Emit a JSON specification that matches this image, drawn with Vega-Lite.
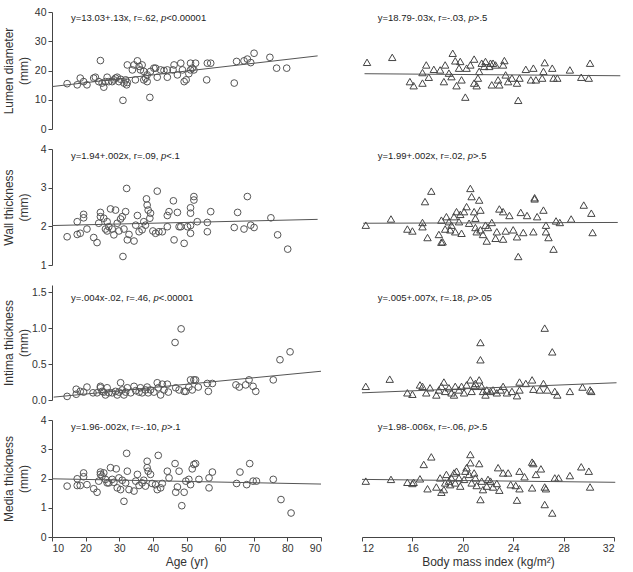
{
  "$schema": "https://vega.github.io/schema/vega-lite/v6.json",
  "background": "white",
  "padding": {"left": 2, "top": 7, "right": 5, "bottom": 5},
  "datasets": {
    "ageLumen": [
      {"age":14.5,"mm":15.5},{"age":17.5,"mm":15.1},{"age":18.4,"mm":17.4},{"age":19.4,"mm":16.2},{"age":20.4,"mm":15.1},{"age":22.4,"mm":17.4},{"age":22.9,"mm":17.7},{"age":24.4,"mm":23.4},{"age":23.9,"mm":16.2},{"age":24.9,"mm":15.7},{"age":25.4,"mm":14.3},{"age":25.9,"mm":16.2},{"age":26.4,"mm":17.7},{"age":26.9,"mm":16.2},{"age":27.9,"mm":16.2},{"age":28.4,"mm":16.8},{"age":28.9,"mm":17.4},{"age":29.4,"mm":17.7},{"age":29.9,"mm":16.2},{"age":30.4,"mm":17.0},{"age":31.1,"mm":9.8},{"age":31.4,"mm":15.7},{"age":31.9,"mm":16.8},{"age":32.2,"mm":15.1},{"age":32.4,"mm":15.9},{"age":32.4,"mm":21.9},{"age":33.9,"mm":20.2},{"age":34.4,"mm":21.9},{"age":34.8,"mm":16.8},{"age":35.4,"mm":23.3},{"age":35.9,"mm":21.4},{"age":36.3,"mm":20.2},{"age":36.8,"mm":21.9},{"age":37.3,"mm":19.7},{"age":37.3,"mm":16.8},{"age":37.8,"mm":17.4},{"age":38.3,"mm":16.2},{"age":38.3,"mm":18.5},{"age":39.1,"mm":10.8},{"age":39.3,"mm":19.7},{"age":40.3,"mm":20.8},{"age":40.8,"mm":20.8},{"age":41.3,"mm":17.7},{"age":42.3,"mm":20.2},{"age":43.3,"mm":20.0},{"age":44.3,"mm":17.7},{"age":44.3,"mm":20.2},{"age":46.0,"mm":20.2},{"age":46.3,"mm":21.9},{"age":47.3,"mm":18.5},{"age":48.3,"mm":22.5},{"age":48.8,"mm":20.2},{"age":49.3,"mm":16.2},{"age":49.9,"mm":16.8},{"age":50.7,"mm":18.9},{"age":51.2,"mm":22.5},{"age":51.2,"mm":20.2},{"age":51.7,"mm":20.8},{"age":52.2,"mm":20.2},{"age":52.7,"mm":22.5},{"age":56.0,"mm":16.8},{"age":56.2,"mm":22.5},{"age":57.2,"mm":22.5},{"age":64.2,"mm":15.7},{"age":64.9,"mm":23.1},{"age":67.1,"mm":23.3},{"age":68.1,"mm":23.9},{"age":69.1,"mm":22.7},{"age":70.1,"mm":25.9},{"age":74.8,"mm":24.5},{"age":76.8,"mm":20.8},{"age":79.8,"mm":20.8}
    ],
    "fitAgeLumen": [{"age":10,"mm":14.5},{"age":89,"mm":25.0}],
    "bmiLumen": [
      {"bmi":12.4,"mm":22.8},{"bmi":14.4,"mm":24.5},{"bmi":19.2,"mm":25.9},{"bmi":17.1,"mm":21.9},{"bmi":16.8,"mm":19.3},{"bmi":15.8,"mm":16.2},{"bmi":16.1,"mm":14.8},{"bmi":16.8,"mm":15.7},{"bmi":17.3,"mm":17.7},{"bmi":17.7,"mm":20.4},{"bmi":18.2,"mm":20.2},{"bmi":18.6,"mm":21.9},{"bmi":18.9,"mm":19.1},{"bmi":19.1,"mm":17.9},{"bmi":18.5,"mm":16.2},{"bmi":19.4,"mm":23.3},{"bmi":19.7,"mm":20.8},{"bmi":19.8,"mm":23.1},{"bmi":19.9,"mm":16.8},{"bmi":19.5,"mm":14.8},{"bmi":20.2,"mm":10.9},{"bmi":20.3,"mm":20.8},{"bmi":20.6,"mm":21.9},{"bmi":20.9,"mm":23.9},{"bmi":20.9,"mm":15.7},{"bmi":21.1,"mm":14.8},{"bmi":21.2,"mm":17.4},{"bmi":21.3,"mm":19.7},{"bmi":21.5,"mm":22.5},{"bmi":21.7,"mm":21.4},{"bmi":21.8,"mm":23.1},{"bmi":22.1,"mm":21.4},{"bmi":22.2,"mm":22.5},{"bmi":22.3,"mm":15.1},{"bmi":22.4,"mm":22.5},{"bmi":22.6,"mm":21.9},{"bmi":22.8,"mm":16.8},{"bmi":22.9,"mm":15.1},{"bmi":23.3,"mm":23.4},{"bmi":23.2,"mm":21.9},{"bmi":23.4,"mm":18.5},{"bmi":23.6,"mm":16.2},{"bmi":23.9,"mm":17.4},{"bmi":24.3,"mm":15.7},{"bmi":24.4,"mm":9.8},{"bmi":24.5,"mm":17.4},{"bmi":25.0,"mm":20.4},{"bmi":25.6,"mm":20.8},{"bmi":25.4,"mm":16.8},{"bmi":25.8,"mm":16.8},{"bmi":26.3,"mm":17.4},{"bmi":26.5,"mm":22.7},{"bmi":26.4,"mm":19.7},{"bmi":27.1,"mm":20.8},{"bmi":27.2,"mm":17.4},{"bmi":27.5,"mm":17.4},{"bmi":28.5,"mm":20.2},{"bmi":29.4,"mm":17.7},{"bmi":30.0,"mm":17.4},{"bmi":30.1,"mm":22.5}
    ],
    "fitBmiLumen": [{"bmi":12.2,"mm":18.9},{"bmi":32.5,"mm":18.2}],
    "ageWall": [
      {"age":14.5,"mm":1.73},{"age":17.5,"mm":1.79},{"age":17.5,"mm":2.12},{"age":18.4,"mm":1.82},{"age":19.4,"mm":2.22},{"age":19.4,"mm":2.31},{"age":20.4,"mm":1.93},{"age":22.4,"mm":1.71},{"age":23.4,"mm":1.58},{"age":23.9,"mm":2.08},{"age":24.4,"mm":2.36},{"age":24.4,"mm":2.25},{"age":25.4,"mm":2.21},{"age":25.9,"mm":1.93},{"age":26.4,"mm":2.12},{"age":26.4,"mm":1.88},{"age":26.9,"mm":1.99},{"age":27.4,"mm":2.45},{"age":27.9,"mm":1.93},{"age":28.4,"mm":1.78},{"age":28.9,"mm":2.42},{"age":29.4,"mm":2.08},{"age":29.9,"mm":1.88},{"age":30.4,"mm":2.19},{"age":30.9,"mm":2.25},{"age":31.1,"mm":1.22},{"age":31.4,"mm":1.93},{"age":31.9,"mm":2.38},{"age":32.2,"mm":2.98},{"age":32.4,"mm":1.65},{"age":32.9,"mm":1.79},{"age":34.4,"mm":1.62},{"age":34.9,"mm":2.03},{"age":35.4,"mm":2.28},{"age":35.9,"mm":1.86},{"age":36.8,"mm":1.91},{"age":37.3,"mm":2.12},{"age":37.8,"mm":2.03},{"age":38.1,"mm":2.71},{"age":38.3,"mm":2.55},{"age":38.6,"mm":2.42},{"age":39.1,"mm":2.21},{"age":39.3,"mm":2.34},{"age":40.0,"mm":1.88},{"age":40.8,"mm":1.82},{"age":41.3,"mm":2.91},{"age":41.8,"mm":1.86},{"age":42.8,"mm":1.86},{"age":44.3,"mm":1.99},{"age":44.3,"mm":2.28},{"age":44.8,"mm":2.38},{"age":46.1,"mm":2.66},{"age":46.3,"mm":1.65},{"age":47.3,"mm":2.36},{"age":47.8,"mm":1.99},{"age":48.3,"mm":1.99},{"age":49.3,"mm":1.56},{"age":50.3,"mm":1.99},{"age":51.2,"mm":2.02},{"age":51.2,"mm":2.34},{"age":51.2,"mm":1.82},{"age":51.2,"mm":2.48},{"age":52.2,"mm":2.77},{"age":52.2,"mm":2.68},{"age":53.2,"mm":2.12},{"age":56.2,"mm":2.10},{"age":56.2,"mm":1.86},{"age":57.2,"mm":2.38},{"age":64.2,"mm":1.97},{"age":65.2,"mm":2.36},{"age":67.1,"mm":1.93},{"age":68.1,"mm":2.77},{"age":69.1,"mm":2.03},{"age":70.1,"mm":1.97},{"age":75.1,"mm":2.22},{"age":77.1,"mm":1.78},{"age":80.1,"mm":1.41}
    ],
    "fitAgeWall": [{"age":10,"mm":2.02},{"age":89,"mm":2.18}],
    "bmiWall": [
      {"bmi":12.3,"mm":2.03},{"bmi":14.3,"mm":2.19},{"bmi":15.6,"mm":1.93},{"bmi":16.0,"mm":1.88},{"bmi":16.8,"mm":2.10},{"bmi":16.8,"mm":1.99},{"bmi":17.0,"mm":2.64},{"bmi":17.2,"mm":1.71},{"bmi":17.5,"mm":2.91},{"bmi":18.1,"mm":1.79},{"bmi":18.3,"mm":2.16},{"bmi":18.3,"mm":1.59},{"bmi":18.4,"mm":1.60},{"bmi":18.6,"mm":1.93},{"bmi":18.7,"mm":2.25},{"bmi":18.9,"mm":2.12},{"bmi":19.0,"mm":1.91},{"bmi":19.1,"mm":2.03},{"bmi":19.3,"mm":2.25},{"bmi":19.4,"mm":1.86},{"bmi":19.5,"mm":2.38},{"bmi":19.7,"mm":2.12},{"bmi":19.8,"mm":2.31},{"bmi":19.9,"mm":1.82},{"bmi":20.1,"mm":2.38},{"bmi":20.3,"mm":2.51},{"bmi":20.5,"mm":2.08},{"bmi":20.6,"mm":2.98},{"bmi":20.7,"mm":2.77},{"bmi":20.9,"mm":2.38},{"bmi":21.0,"mm":2.21},{"bmi":21.0,"mm":1.97},{"bmi":21.1,"mm":1.86},{"bmi":21.3,"mm":2.68},{"bmi":21.4,"mm":2.42},{"bmi":21.4,"mm":1.91},{"bmi":21.6,"mm":1.79},{"bmi":21.8,"mm":2.03},{"bmi":21.9,"mm":1.62},{"bmi":22.0,"mm":1.97},{"bmi":22.3,"mm":2.10},{"bmi":22.6,"mm":1.69},{"bmi":22.7,"mm":1.86},{"bmi":22.9,"mm":2.45},{"bmi":23.2,"mm":1.67},{"bmi":23.2,"mm":2.38},{"bmi":23.4,"mm":1.88},{"bmi":23.7,"mm":2.28},{"bmi":24.0,"mm":1.91},{"bmi":24.3,"mm":1.73},{"bmi":24.4,"mm":1.22},{"bmi":24.6,"mm":2.36},{"bmi":24.8,"mm":1.84},{"bmi":25.1,"mm":2.28},{"bmi":25.6,"mm":1.86},{"bmi":25.7,"mm":2.74},{"bmi":25.7,"mm":2.71},{"bmi":25.9,"mm":2.25},{"bmi":26.4,"mm":2.42},{"bmi":26.6,"mm":2.03},{"bmi":26.6,"mm":1.86},{"bmi":26.8,"mm":1.71},{"bmi":27.2,"mm":1.41},{"bmi":27.4,"mm":2.14},{"bmi":27.7,"mm":2.10},{"bmi":28.6,"mm":2.19},{"bmi":29.6,"mm":2.55},{"bmi":30.2,"mm":2.34},{"bmi":30.3,"mm":1.84}
    ],
    "fitBmiWall": [{"bmi":12.1,"mm":2.08},{"bmi":32.3,"mm":2.10}],
    "ageIntima": [
      {"age":14.5,"mm":0.05},{"age":17.2,"mm":0.08},{"age":17.2,"mm":0.15},{"age":18.4,"mm":0.12},{"age":19.4,"mm":0.11},{"age":20.4,"mm":0.18},{"age":22.2,"mm":0.10},{"age":23.4,"mm":0.10},{"age":24.4,"mm":0.19},{"age":24.4,"mm":0.17},{"age":24.9,"mm":0.12},{"age":25.4,"mm":0.11},{"age":25.9,"mm":0.07},{"age":26.4,"mm":0.17},{"age":26.9,"mm":0.10},{"age":27.9,"mm":0.10},{"age":28.9,"mm":0.12},{"age":29.4,"mm":0.07},{"age":29.9,"mm":0.11},{"age":30.4,"mm":0.24},{"age":30.9,"mm":0.14},{"age":31.4,"mm":0.07},{"age":31.9,"mm":0.11},{"age":32.4,"mm":0.17},{"age":33.4,"mm":0.10},{"age":34.4,"mm":0.19},{"age":34.9,"mm":0.13},{"age":35.9,"mm":0.11},{"age":36.3,"mm":0.17},{"age":36.8,"mm":0.10},{"age":37.8,"mm":0.14},{"age":38.3,"mm":0.18},{"age":38.6,"mm":0.10},{"age":39.3,"mm":0.14},{"age":40.3,"mm":0.11},{"age":41.3,"mm":0.24},{"age":41.6,"mm":0.17},{"age":42.3,"mm":0.07},{"age":42.8,"mm":0.22},{"age":43.3,"mm":0.14},{"age":44.3,"mm":0.22},{"age":44.6,"mm":0.11},{"age":46.6,"mm":0.80},{"age":46.8,"mm":0.17},{"age":47.8,"mm":0.14},{"age":48.4,"mm":0.99},{"age":49.3,"mm":0.12},{"age":49.8,"mm":0.12},{"age":50.7,"mm":0.18},{"age":51.2,"mm":0.28},{"age":51.7,"mm":0.14},{"age":52.2,"mm":0.28},{"age":52.7,"mm":0.28},{"age":53.5,"mm":0.18},{"age":56.2,"mm":0.23},{"age":56.5,"mm":0.12},{"age":57.7,"mm":0.23},{"age":64.7,"mm":0.21},{"age":65.7,"mm":0.18},{"age":67.6,"mm":0.21},{"age":68.6,"mm":0.28},{"age":69.8,"mm":0.19},{"age":70.6,"mm":0.12},{"age":75.8,"mm":0.28},{"age":77.8,"mm":0.56},{"age":80.8,"mm":0.67}
    ],
    "fitAgeIntima": [{"age":10.5,"mm":0.04},{"age":90,"mm":0.40}],
    "bmiIntima": [
      {"bmi":12.3,"mm":0.19},{"bmi":14.2,"mm":0.29},{"bmi":15.6,"mm":0.10},{"bmi":16.0,"mm":0.08},{"bmi":16.6,"mm":0.21},{"bmi":16.8,"mm":0.19},{"bmi":17.1,"mm":0.10},{"bmi":17.4,"mm":0.17},{"bmi":17.9,"mm":0.07},{"bmi":18.1,"mm":0.14},{"bmi":18.3,"mm":0.19},{"bmi":18.5,"mm":0.25},{"bmi":18.6,"mm":0.12},{"bmi":18.9,"mm":0.17},{"bmi":19.1,"mm":0.10},{"bmi":19.3,"mm":0.07},{"bmi":19.4,"mm":0.19},{"bmi":19.7,"mm":0.14},{"bmi":19.9,"mm":0.19},{"bmi":20.1,"mm":0.10},{"bmi":20.3,"mm":0.21},{"bmi":20.6,"mm":0.28},{"bmi":20.7,"mm":0.12},{"bmi":20.9,"mm":0.19},{"bmi":21.0,"mm":0.23},{"bmi":21.3,"mm":0.28},{"bmi":21.4,"mm":0.80},{"bmi":21.4,"mm":0.56},{"bmi":21.5,"mm":0.19},{"bmi":21.6,"mm":0.12},{"bmi":21.8,"mm":0.07},{"bmi":21.9,"mm":0.14},{"bmi":22.2,"mm":0.12},{"bmi":22.4,"mm":0.14},{"bmi":22.7,"mm":0.10},{"bmi":23.0,"mm":0.14},{"bmi":23.2,"mm":0.19},{"bmi":23.5,"mm":0.10},{"bmi":23.9,"mm":0.12},{"bmi":24.3,"mm":0.06},{"bmi":24.5,"mm":0.25},{"bmi":24.5,"mm":0.14},{"bmi":25.0,"mm":0.23},{"bmi":25.5,"mm":0.28},{"bmi":25.6,"mm":0.15},{"bmi":26.1,"mm":0.14},{"bmi":26.4,"mm":0.23},{"bmi":26.5,"mm":1.00},{"bmi":26.7,"mm":0.14},{"bmi":27.1,"mm":0.67},{"bmi":27.3,"mm":0.12},{"bmi":27.5,"mm":0.07},{"bmi":28.5,"mm":0.12},{"bmi":29.5,"mm":0.18},{"bmi":30.1,"mm":0.14},{"bmi":30.2,"mm":0.12}
    ],
    "fitBmiIntima": [{"bmi":12,"mm":0.10},{"bmi":32.2,"mm":0.24}],
    "ageMedia": [
      {"age":14.5,"mm":1.74},{"age":17.5,"mm":1.99},{"age":17.5,"mm":1.76},{"age":18.4,"mm":1.76},{"age":19.4,"mm":2.19},{"age":19.4,"mm":2.06},{"age":20.4,"mm":1.79},{"age":22.4,"mm":1.65},{"age":23.4,"mm":1.53},{"age":23.9,"mm":1.91},{"age":24.4,"mm":2.22},{"age":24.4,"mm":2.14},{"age":24.9,"mm":2.08},{"age":25.4,"mm":2.19},{"age":25.9,"mm":1.97},{"age":26.4,"mm":1.85},{"age":26.9,"mm":1.85},{"age":27.4,"mm":2.37},{"age":27.9,"mm":1.97},{"age":28.4,"mm":1.87},{"age":29.1,"mm":2.33},{"age":29.4,"mm":1.68},{"age":29.9,"mm":2.02},{"age":30.4,"mm":1.62},{"age":30.9,"mm":1.94},{"age":31.4,"mm":1.22},{"age":31.9,"mm":1.85},{"age":32.2,"mm":2.86},{"age":32.4,"mm":2.25},{"age":32.9,"mm":1.62},{"age":34.4,"mm":1.57},{"age":34.9,"mm":1.91},{"age":35.4,"mm":2.14},{"age":35.9,"mm":1.76},{"age":36.8,"mm":1.85},{"age":37.3,"mm":1.94},{"age":37.8,"mm":1.74},{"age":38.3,"mm":2.59},{"age":38.3,"mm":2.37},{"age":38.6,"mm":2.25},{"age":39.3,"mm":2.14},{"age":39.8,"mm":1.83},{"age":40.8,"mm":1.79},{"age":41.3,"mm":1.62},{"age":41.6,"mm":2.79},{"age":42.3,"mm":1.68},{"age":42.8,"mm":1.83},{"age":44.3,"mm":2.25},{"age":44.8,"mm":2.02},{"age":46.6,"mm":2.51},{"age":46.8,"mm":1.53},{"age":47.3,"mm":1.71},{"age":47.8,"mm":2.25},{"age":48.6,"mm":1.07},{"age":49.3,"mm":1.53},{"age":49.8,"mm":1.91},{"age":50.7,"mm":1.97},{"age":51.2,"mm":1.79},{"age":51.7,"mm":2.33},{"age":52.2,"mm":2.48},{"age":52.7,"mm":2.51},{"age":53.7,"mm":1.97},{"age":56.7,"mm":1.68},{"age":56.7,"mm":2.02},{"age":57.7,"mm":2.22},{"age":64.9,"mm":1.83},{"age":65.9,"mm":2.22},{"age":67.9,"mm":1.79},{"age":68.8,"mm":2.51},{"age":69.8,"mm":1.91},{"age":70.8,"mm":1.91},{"age":75.8,"mm":1.97},{"age":78.1,"mm":1.28},{"age":81.1,"mm":0.82}
    ],
    "fitAgeMedia": [{"age":10,"mm":1.99},{"age":90,"mm":1.81}],
    "bmiMedia": [
      {"bmi":12.3,"mm":1.91},{"bmi":14.3,"mm":1.97},{"bmi":15.6,"mm":1.87},{"bmi":16.0,"mm":1.83},{"bmi":16.1,"mm":1.87},{"bmi":16.6,"mm":1.99},{"bmi":16.9,"mm":2.48},{"bmi":17.2,"mm":1.65},{"bmi":17.5,"mm":2.74},{"bmi":17.9,"mm":1.71},{"bmi":18.2,"mm":2.02},{"bmi":18.3,"mm":1.53},{"bmi":18.5,"mm":1.62},{"bmi":18.6,"mm":1.85},{"bmi":18.7,"mm":2.14},{"bmi":18.9,"mm":1.91},{"bmi":19.0,"mm":1.79},{"bmi":19.1,"mm":2.02},{"bmi":19.3,"mm":2.19},{"bmi":19.4,"mm":1.85},{"bmi":19.5,"mm":2.25},{"bmi":19.7,"mm":2.02},{"bmi":19.8,"mm":1.74},{"bmi":20.1,"mm":1.97},{"bmi":20.2,"mm":2.25},{"bmi":20.3,"mm":2.37},{"bmi":20.5,"mm":2.14},{"bmi":20.6,"mm":2.82},{"bmi":20.6,"mm":2.54},{"bmi":20.7,"mm":1.85},{"bmi":20.9,"mm":2.19},{"bmi":21.0,"mm":2.02},{"bmi":21.1,"mm":1.76},{"bmi":21.3,"mm":2.51},{"bmi":21.4,"mm":1.28},{"bmi":21.5,"mm":1.91},{"bmi":21.6,"mm":1.62},{"bmi":21.9,"mm":1.74},{"bmi":22.0,"mm":1.97},{"bmi":22.2,"mm":1.91},{"bmi":22.4,"mm":1.71},{"bmi":22.7,"mm":1.83},{"bmi":22.8,"mm":2.37},{"bmi":22.9,"mm":1.60},{"bmi":23.2,"mm":2.19},{"bmi":23.6,"mm":2.19},{"bmi":23.8,"mm":1.79},{"bmi":24.2,"mm":1.76},{"bmi":24.3,"mm":1.26},{"bmi":24.5,"mm":2.25},{"bmi":24.5,"mm":1.65},{"bmi":24.9,"mm":2.06},{"bmi":25.5,"mm":1.68},{"bmi":25.5,"mm":2.56},{"bmi":25.6,"mm":2.51},{"bmi":25.8,"mm":2.14},{"bmi":26.2,"mm":2.33},{"bmi":26.5,"mm":1.71},{"bmi":26.6,"mm":1.65},{"bmi":26.5,"mm":1.11},{"bmi":27.1,"mm":0.82},{"bmi":27.3,"mm":2.02},{"bmi":27.6,"mm":2.02},{"bmi":28.5,"mm":2.10},{"bmi":29.4,"mm":2.40},{"bmi":30.0,"mm":2.25},{"bmi":30.1,"mm":1.71}
    ],
    "fitBmiMedia": [{"bmi":12,"mm":1.97},{"bmi":32.1,"mm":1.87}]
  },
  "columns": 2,
  "spacing": {"row": 20, "column": 41},
  "bounds": "flush",
  "align": "each",
  "concat": [
    {
      "width": 269, "height": 117,
      "layer": [
        {"data": {"name": "ageLumen"}, "mark": {"type": "point", "shape": "circle", "filled": false, "color": "#555", "strokeWidth": 1, "size": 45, "opacity": 1},
         "encoding": {"x": {"field": "age", "type": "quantitative", "scale": {"domain": [10, 90]}, "axis": null}, "y": {"field": "mm", "type": "quantitative", "scale": {"domain": [0, 40]}, "axis": {"values": [0, 10, 20, 30, 40], "title": ["Lumen diameter", "(mm)"], "titlePadding": 4}}}},
        {"data": {"name": "fitAgeLumen"}, "mark": {"type": "line", "color": "#555", "strokeWidth": 1},
         "encoding": {"x": {"field": "age", "type": "quantitative"}, "y": {"field": "mm", "type": "quantitative", "axis": {"values": [0, 10, 20, 30, 40], "title": ["Lumen diameter", "(mm)"], "titlePadding": 4}}}},
        {"data": {"values": [{"label": "y=13.03+.13x, r=.62, "}]}, "mark": {"type": "text", "align": "left", "baseline": "middle", "fontSize": 9.5, "color": "#222"}, "encoding": {"x": {"datum": 15.65, "type": "quantitative"}, "y": {"datum": 37.8, "type": "quantitative", "axis": {"values": [0, 10, 20, 30, 40], "title": ["Lumen diameter", "(mm)"], "titlePadding": 4}}, "text": {"field": "label"}}},
        {"data": {"values": [{"label": "p"}]}, "mark": {"type": "text", "align": "left", "baseline": "middle", "fontSize": 9.5, "color": "#222", "fontStyle": "italic", "dx": 90.0}, "encoding": {"x": {"datum": 15.65, "type": "quantitative"}, "y": {"datum": 37.8, "type": "quantitative", "axis": {"values": [0, 10, 20, 30, 40], "title": ["Lumen diameter", "(mm)"], "titlePadding": 4}}, "text": {"field": "label"}}},
        {"data": {"values": [{"label": "<0.00001"}]}, "mark": {"type": "text", "align": "left", "baseline": "middle", "fontSize": 9.5, "color": "#222", "dx": 95.3}, "encoding": {"x": {"datum": 15.65, "type": "quantitative"}, "y": {"datum": 37.8, "type": "quantitative", "axis": {"values": [0, 10, 20, 30, 40], "title": ["Lumen diameter", "(mm)"], "titlePadding": 4}}, "text": {"field": "label"}}}
      ]
    },
    {
      "width": 252, "height": 117,
      "layer": [
        {"data": {"name": "bmiLumen"}, "mark": {"type": "point", "shape": "triangle-up", "filled": false, "color": "#444", "strokeWidth": 1, "size": 55, "opacity": 1},
         "encoding": {"x": {"field": "bmi", "type": "quantitative", "scale": {"domain": [12, 32]}, "axis": null}, "y": {"field": "mm", "type": "quantitative", "scale": {"domain": [0, 40]}, "axis": null}}},
        {"data": {"name": "fitBmiLumen"}, "mark": {"type": "line", "color": "#555", "strokeWidth": 1},
         "encoding": {"x": {"field": "bmi", "type": "quantitative"}, "y": {"field": "mm", "type": "quantitative"}}},
        {"data": {"values": [{"label": "y=18.79-.03x, r=-.03, "}]}, "mark": {"type": "text", "align": "left", "baseline": "middle", "fontSize": 9.5, "color": "#222"}, "encoding": {"x": {"datum": 13.25, "type": "quantitative"}, "y": {"datum": 37.8, "type": "quantitative"}, "text": {"field": "label"}}},
        {"data": {"values": [{"label": "p"}]}, "mark": {"type": "text", "align": "left", "baseline": "middle", "fontSize": 9.5, "color": "#222", "fontStyle": "italic", "dx": 90.8}, "encoding": {"x": {"datum": 13.25, "type": "quantitative"}, "y": {"datum": 37.8, "type": "quantitative"}, "text": {"field": "label"}}},
        {"data": {"values": [{"label": ">.5"}]}, "mark": {"type": "text", "align": "left", "baseline": "middle", "fontSize": 9.5, "color": "#222", "dx": 96.1}, "encoding": {"x": {"datum": 13.25, "type": "quantitative"}, "y": {"datum": 37.8, "type": "quantitative"}, "text": {"field": "label"}}}
      ]
    },
    {
      "width": 269, "height": 116,
      "layer": [
        {"data": {"name": "ageWall"}, "mark": {"type": "point", "shape": "circle", "filled": false, "color": "#555", "strokeWidth": 1, "size": 45, "opacity": 1},
         "encoding": {"x": {"field": "age", "type": "quantitative", "scale": {"domain": [10, 90]}, "axis": null}, "y": {"field": "mm", "type": "quantitative", "scale": {"domain": [1, 4]}, "axis": {"values": [1, 2, 3, 4], "title": ["Wall thickness", "(mm)"], "titlePadding": 10}}}},
        {"data": {"name": "fitAgeWall"}, "mark": {"type": "line", "color": "#555", "strokeWidth": 1},
         "encoding": {"x": {"field": "age", "type": "quantitative"}, "y": {"field": "mm", "type": "quantitative", "axis": {"values": [1, 2, 3, 4], "title": ["Wall thickness", "(mm)"], "titlePadding": 10}}}},
        {"data": {"values": [{"label": "y=1.94+.002x, r=.09, "}]}, "mark": {"type": "text", "align": "left", "baseline": "middle", "fontSize": 9.5, "color": "#222"}, "encoding": {"x": {"datum": 15.65, "type": "quantitative"}, "y": {"datum": 3.82, "type": "quantitative", "axis": {"values": [1, 2, 3, 4], "title": ["Wall thickness", "(mm)"], "titlePadding": 10}}, "text": {"field": "label"}}},
        {"data": {"values": [{"label": "p"}]}, "mark": {"type": "text", "align": "left", "baseline": "middle", "fontSize": 9.5, "color": "#222", "fontStyle": "italic", "dx": 90.0}, "encoding": {"x": {"datum": 15.65, "type": "quantitative"}, "y": {"datum": 3.82, "type": "quantitative", "axis": {"values": [1, 2, 3, 4], "title": ["Wall thickness", "(mm)"], "titlePadding": 10}}, "text": {"field": "label"}}},
        {"data": {"values": [{"label": "<.1"}]}, "mark": {"type": "text", "align": "left", "baseline": "middle", "fontSize": 9.5, "color": "#222", "dx": 95.3}, "encoding": {"x": {"datum": 15.65, "type": "quantitative"}, "y": {"datum": 3.82, "type": "quantitative", "axis": {"values": [1, 2, 3, 4], "title": ["Wall thickness", "(mm)"], "titlePadding": 10}}, "text": {"field": "label"}}}
      ]
    },
    {
      "width": 252, "height": 116,
      "layer": [
        {"data": {"name": "bmiWall"}, "mark": {"type": "point", "shape": "triangle-up", "filled": false, "color": "#444", "strokeWidth": 1, "size": 55, "opacity": 1},
         "encoding": {"x": {"field": "bmi", "type": "quantitative", "scale": {"domain": [12, 32]}, "axis": null}, "y": {"field": "mm", "type": "quantitative", "scale": {"domain": [1, 4]}, "axis": null}}},
        {"data": {"name": "fitBmiWall"}, "mark": {"type": "line", "color": "#555", "strokeWidth": 1},
         "encoding": {"x": {"field": "bmi", "type": "quantitative"}, "y": {"field": "mm", "type": "quantitative"}}},
        {"data": {"values": [{"label": "y=1.99+.002x, r=.02, "}]}, "mark": {"type": "text", "align": "left", "baseline": "middle", "fontSize": 9.5, "color": "#222"}, "encoding": {"x": {"datum": 13.25, "type": "quantitative"}, "y": {"datum": 3.82, "type": "quantitative"}, "text": {"field": "label"}}},
        {"data": {"values": [{"label": "p"}]}, "mark": {"type": "text", "align": "left", "baseline": "middle", "fontSize": 9.5, "color": "#222", "fontStyle": "italic", "dx": 90.0}, "encoding": {"x": {"datum": 13.25, "type": "quantitative"}, "y": {"datum": 3.82, "type": "quantitative"}, "text": {"field": "label"}}},
        {"data": {"values": [{"label": ">.5"}]}, "mark": {"type": "text", "align": "left", "baseline": "middle", "fontSize": 9.5, "color": "#222", "dx": 95.3}, "encoding": {"x": {"datum": 13.25, "type": "quantitative"}, "y": {"datum": 3.82, "type": "quantitative"}, "text": {"field": "label"}}}
      ]
    },
    {
      "width": 269, "height": 115,
      "layer": [
        {"data": {"name": "ageIntima"}, "mark": {"type": "point", "shape": "circle", "filled": false, "color": "#555", "strokeWidth": 1, "size": 45, "opacity": 1},
         "encoding": {"x": {"field": "age", "type": "quantitative", "scale": {"domain": [10, 90]}, "axis": null}, "y": {"field": "mm", "type": "quantitative", "scale": {"domain": [0, 1.5]}, "axis": {"values": [0, 0.5, 1, 1.5], "format": ".1f", "title": ["Intima thickness", "(mm)"], "titlePadding": 1}}}},
        {"data": {"name": "fitAgeIntima"}, "mark": {"type": "line", "color": "#555", "strokeWidth": 1},
         "encoding": {"x": {"field": "age", "type": "quantitative"}, "y": {"field": "mm", "type": "quantitative", "axis": {"values": [0, 0.5, 1, 1.5], "format": ".1f", "title": ["Intima thickness", "(mm)"], "titlePadding": 1}}}},
        {"data": {"values": [{"label": "y=.004x-.02, r=.46, "}]}, "mark": {"type": "text", "align": "left", "baseline": "middle", "fontSize": 9.5, "color": "#222"}, "encoding": {"x": {"datum": 15.65, "type": "quantitative"}, "y": {"datum": 1.42, "type": "quantitative", "axis": {"values": [0, 0.5, 1, 1.5], "format": ".1f", "title": ["Intima thickness", "(mm)"], "titlePadding": 1}}, "text": {"field": "label"}}},
        {"data": {"values": [{"label": "p"}]}, "mark": {"type": "text", "align": "left", "baseline": "middle", "fontSize": 9.5, "color": "#222", "fontStyle": "italic", "dx": 82.4}, "encoding": {"x": {"datum": 15.65, "type": "quantitative"}, "y": {"datum": 1.42, "type": "quantitative", "axis": {"values": [0, 0.5, 1, 1.5], "format": ".1f", "title": ["Intima thickness", "(mm)"], "titlePadding": 1}}, "text": {"field": "label"}}},
        {"data": {"values": [{"label": "<.00001"}]}, "mark": {"type": "text", "align": "left", "baseline": "middle", "fontSize": 9.5, "color": "#222", "dx": 87.7}, "encoding": {"x": {"datum": 15.65, "type": "quantitative"}, "y": {"datum": 1.42, "type": "quantitative", "axis": {"values": [0, 0.5, 1, 1.5], "format": ".1f", "title": ["Intima thickness", "(mm)"], "titlePadding": 1}}, "text": {"field": "label"}}}
      ]
    },
    {
      "width": 252, "height": 115,
      "layer": [
        {"data": {"name": "bmiIntima"}, "mark": {"type": "point", "shape": "triangle-up", "filled": false, "color": "#444", "strokeWidth": 1, "size": 55, "opacity": 1},
         "encoding": {"x": {"field": "bmi", "type": "quantitative", "scale": {"domain": [12, 32]}, "axis": null}, "y": {"field": "mm", "type": "quantitative", "scale": {"domain": [0, 1.5]}, "axis": null}}},
        {"data": {"name": "fitBmiIntima"}, "mark": {"type": "line", "color": "#555", "strokeWidth": 1},
         "encoding": {"x": {"field": "bmi", "type": "quantitative"}, "y": {"field": "mm", "type": "quantitative"}}},
        {"data": {"values": [{"label": "y=.005+.007x, r=.18, "}]}, "mark": {"type": "text", "align": "left", "baseline": "middle", "fontSize": 9.5, "color": "#222"}, "encoding": {"x": {"datum": 13.25, "type": "quantitative"}, "y": {"datum": 1.42, "type": "quantitative"}, "text": {"field": "label"}}},
        {"data": {"values": [{"label": "p"}]}, "mark": {"type": "text", "align": "left", "baseline": "middle", "fontSize": 9.5, "color": "#222", "fontStyle": "italic", "dx": 90.0}, "encoding": {"x": {"datum": 13.25, "type": "quantitative"}, "y": {"datum": 1.42, "type": "quantitative"}, "text": {"field": "label"}}},
        {"data": {"values": [{"label": ">.05"}]}, "mark": {"type": "text", "align": "left", "baseline": "middle", "fontSize": 9.5, "color": "#222", "dx": 95.3}, "encoding": {"x": {"datum": 13.25, "type": "quantitative"}, "y": {"datum": 1.42, "type": "quantitative"}, "text": {"field": "label"}}}
      ]
    },
    {
      "width": 269, "height": 117,
      "layer": [
        {"data": {"name": "ageMedia"}, "mark": {"type": "point", "shape": "circle", "filled": false, "color": "#555", "strokeWidth": 1, "size": 45, "opacity": 1},
         "encoding": {"x": {"field": "age", "type": "quantitative", "scale": {"domain": [10, 90]}, "axis": {"values": [10, 20, 30, 40, 50, 60, 70, 80, 90], "title": "Age (yr)", "titlePadding": 3}}, "y": {"field": "mm", "type": "quantitative", "scale": {"domain": [0, 4]}, "axis": {"values": [0, 1, 2, 3, 4], "title": ["Media thickness", "(mm)"], "titlePadding": 10}}}},
        {"data": {"name": "fitAgeMedia"}, "mark": {"type": "line", "color": "#555", "strokeWidth": 1},
         "encoding": {"x": {"field": "age", "type": "quantitative", "axis": {"values": [10, 20, 30, 40, 50, 60, 70, 80, 90], "title": "Age (yr)", "titlePadding": 3}}, "y": {"field": "mm", "type": "quantitative", "axis": {"values": [0, 1, 2, 3, 4], "title": ["Media thickness", "(mm)"], "titlePadding": 10}}}},
        {"data": {"values": [{"label": "y=1.96-.002x, r=-.10, "}]}, "mark": {"type": "text", "align": "left", "baseline": "middle", "fontSize": 9.5, "color": "#222"}, "encoding": {"x": {"datum": 15.65, "type": "quantitative", "axis": {"values": [10, 20, 30, 40, 50, 60, 70, 80, 90], "title": "Age (yr)", "titlePadding": 3}}, "y": {"datum": 3.77, "type": "quantitative", "axis": {"values": [0, 1, 2, 3, 4], "title": ["Media thickness", "(mm)"], "titlePadding": 10}}, "text": {"field": "label"}}},
        {"data": {"values": [{"label": "p"}]}, "mark": {"type": "text", "align": "left", "baseline": "middle", "fontSize": 9.5, "color": "#222", "fontStyle": "italic", "dx": 90.8}, "encoding": {"x": {"datum": 15.65, "type": "quantitative", "axis": {"values": [10, 20, 30, 40, 50, 60, 70, 80, 90], "title": "Age (yr)", "titlePadding": 3}}, "y": {"datum": 3.77, "type": "quantitative", "axis": {"values": [0, 1, 2, 3, 4], "title": ["Media thickness", "(mm)"], "titlePadding": 10}}, "text": {"field": "label"}}},
        {"data": {"values": [{"label": ">.1"}]}, "mark": {"type": "text", "align": "left", "baseline": "middle", "fontSize": 9.5, "color": "#222", "dx": 96.1}, "encoding": {"x": {"datum": 15.65, "type": "quantitative", "axis": {"values": [10, 20, 30, 40, 50, 60, 70, 80, 90], "title": "Age (yr)", "titlePadding": 3}}, "y": {"datum": 3.77, "type": "quantitative", "axis": {"values": [0, 1, 2, 3, 4], "title": ["Media thickness", "(mm)"], "titlePadding": 10}}, "text": {"field": "label"}}}
      ]
    },
    {
      "width": 252, "height": 117,
      "layer": [
        {"data": {"name": "bmiMedia"}, "mark": {"type": "point", "shape": "triangle-up", "filled": false, "color": "#444", "strokeWidth": 1, "size": 55, "opacity": 1},
         "encoding": {"x": {"field": "bmi", "type": "quantitative", "scale": {"domain": [12, 32]}, "axis": {"values": [12, 16, 20, 24, 28, 32], "title": "Body mass index (kg/m²)", "titlePadding": 3}}, "y": {"field": "mm", "type": "quantitative", "scale": {"domain": [0, 4]}, "axis": null}}},
        {"data": {"name": "fitBmiMedia"}, "mark": {"type": "line", "color": "#555", "strokeWidth": 1},
         "encoding": {"x": {"field": "bmi", "type": "quantitative", "axis": {"values": [12, 16, 20, 24, 28, 32], "title": "Body mass index (kg/m²)", "titlePadding": 3}}, "y": {"field": "mm", "type": "quantitative"}}},
        {"data": {"values": [{"label": "y=1.98-.006x, r=-.06, "}]}, "mark": {"type": "text", "align": "left", "baseline": "middle", "fontSize": 9.5, "color": "#222"}, "encoding": {"x": {"datum": 13.25, "type": "quantitative", "axis": {"values": [12, 16, 20, 24, 28, 32], "title": "Body mass index (kg/m²)", "titlePadding": 3}}, "y": {"datum": 3.77, "type": "quantitative"}, "text": {"field": "label"}}},
        {"data": {"values": [{"label": "p"}]}, "mark": {"type": "text", "align": "left", "baseline": "middle", "fontSize": 9.5, "color": "#222", "fontStyle": "italic", "dx": 90.8}, "encoding": {"x": {"datum": 13.25, "type": "quantitative", "axis": {"values": [12, 16, 20, 24, 28, 32], "title": "Body mass index (kg/m²)", "titlePadding": 3}}, "y": {"datum": 3.77, "type": "quantitative"}, "text": {"field": "label"}}},
        {"data": {"values": [{"label": ">.5"}]}, "mark": {"type": "text", "align": "left", "baseline": "middle", "fontSize": 9.5, "color": "#222", "dx": 96.1}, "encoding": {"x": {"datum": 13.25, "type": "quantitative", "axis": {"values": [12, 16, 20, 24, 28, 32], "title": "Body mass index (kg/m²)", "titlePadding": 3}}, "y": {"datum": 3.77, "type": "quantitative"}, "text": {"field": "label"}}}
      ]
    }
  ],
  "config": {
    "font": "Liberation Sans",
    "view": {"stroke": null},
    "axis": {
      "grid": false,
      "domainColor": "#444",
      "tickColor": "#444",
      "tickSize": 4,
      "labelPadding": 2,
      "labelOverlap": false,
      "labelColor": "#333",
      "labelFont": "Liberation Sans",
      "labelFontSize": 10.5,
      "titleFont": "Liberation Sans",
      "titleFontSize": 12,
      "titleFontWeight": "normal",
      "titleColor": "#333",
      "titleLineHeight": 15
    },
    "text": {"font": "Liberation Sans"}
  }
}
